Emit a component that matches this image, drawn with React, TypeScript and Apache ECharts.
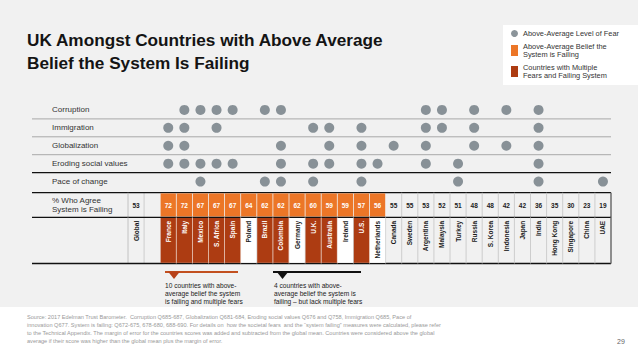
import React, { useEffect, useRef } from "react";
import * as echarts from "echarts";

const FONT = "'Liberation Sans', Arial, Helvetica, sans-serif";
const ORANGE = "#ec7627";
const DARK = "#ad3c12";
const DOT = "#6e7981";

const titleText = "UK Amongst Countries with Above Average\nBelief the System Is Failing";
const globalLabel = "Global";
const globalAgree = 53;
const countries = [
  "France", "Italy", "Mexico", "S. Africa", "Spain", "Poland", "Brazil", "Colombia",
  "Germany", "U.K.", "Australia", "Ireland", "U.S.", "Netherlands", "Canada", "Sweden",
  "Argentina", "Malaysia", "Turkey", "Russia", "S. Korea", "Indonesia", "Japan", "India",
  "Hong Kong", "Singapore", "China", "UAE",
];
const agreeFailing = [
  72, 72, 67, 67, 67, 64, 62, 62, 62, 60, 59, 59, 57, 56, 55, 55, 53, 52, 51, 48, 48, 42,
  42, 36, 35, 30, 23, 19,
];
const aboveAvgBelief = [
  "France", "Italy", "Mexico", "S. Africa", "Spain", "Poland", "Brazil", "Colombia",
  "Germany", "U.K.", "Australia", "Ireland", "U.S.", "Netherlands",
];
const fearRows = ["Corruption", "Immigration", "Globalization", "Eroding social values", "Pace of change"];
const corruption = ["Italy", "Mexico", "S. Africa", "Spain", "Brazil", "Colombia", "Argentina", "Malaysia", "Russia", "Indonesia", "India"];
const immigration = ["France", "Italy", "S. Africa", "U.K.", "Australia", "U.S.", "Argentina", "Malaysia", "Russia", "India"];
const globalization = ["France", "Italy", "Colombia", "Australia", "U.S.", "Canada", "Argentina", "Russia", "Indonesia", "India"];
const erodingValues = ["France", "Italy", "Mexico", "S. Africa", "Spain", "Colombia", "U.K.", "Australia", "U.S.", "Netherlands", "Argentina", "Turkey", "India"];
const paceOfChange = ["Mexico", "Brazil", "Colombia", "U.K.", "U.S.", "Turkey", "India", "UAE"];
const fearsByRow = [corruption, immigration, globalization, erodingValues, paceOfChange];
const agreeLabel = "% Who Agree\nSystem is Failing";

const LEGEND_FEAR = "Above-Average Level of Fear";
const LEGEND_BELIEF = "Above-Average Belief the\nSystem is Failing";
const LEGEND_MULTI = "Countries with Multiple\nFears and Failing System";

const note1 = "10 countries with above-\naverage belief the system\nis failing and multiple fears";
const note2 = "4 countries with above-\naverage belief the system is\nfailing \u2013 but lack multiple fears";
const sourceText =
  "Source: 2017 Edelman Trust Barometer.  Corruption Q685-687, Globalization Q681-684, Eroding social values Q676 and Q758, Immigration Q685, Pace of\n" +
  "innovation Q677. System is failing: Q672-675, 678-680, 688-690. For details on  how the societal fears  and the \u201csystem failing\u201d measures were calculated, please refer\n" +
  "to the Technical Appendix. The margin of error for the countries scores was added and subtracted from the global mean. Countries were considered above the global\n" +
  "average if their score was higher than the global mean plus the margin of error.";
const pageNumber = "29";

const columns = [globalLabel, "", ...countries];

export default function App() {
  const ref = useRef<HTMLDivElement>(null);
  useEffect(() => {
    if (!ref.current) return;
    const chart = echarts.init(ref.current, undefined, { renderer: "svg" });

    const fearCount = (c: string) => fearsByRow.filter((r) => r.includes(c)).length;
    const colOf = (c: string) => columns.indexOf(c);

    const dots: number[][] = [];
    fearsByRow.forEach((list, r) => list.forEach((c) => dots.push([colOf(c), r])));

    const valueData: number[][] = [[0, 0, globalAgree, 0]];
    countries.forEach((c, i) => valueData.push([colOf(c), 0, agreeFailing[i], aboveAvgBelief.includes(c) ? 1 : 0]));

    const nameData: number[][] = [[0, 0.5, 0]];
    countries.forEach((c) => {
      const failing = aboveAvgBelief.includes(c);
      const status = failing ? (fearCount(c) >= 2 ? 2 : 1) : 0;
      nameData.push([colOf(c), 0.5, status]);
    });

    const LABEL_LEFT = 96; // lines extend from x = grid.left - 96
    const tableFrame = (cs: any, children: any[]) => {
      const x0 = cs.x - LABEL_LEFT;
      const x1 = cs.x + cs.width;
      children.push(
        { type: "line", shape: { x1: x0, y1: cs.y, x2: x1, y2: cs.y }, style: { stroke: "#111", lineWidth: 1.3 } },
        { type: "line", shape: { x1: cs.x, y1: cs.y, x2: cs.x, y2: cs.y + cs.height }, style: { stroke: "#b8b8b8", lineWidth: 0.8 } },
        { type: "line", shape: { x1: x1, y1: cs.y, x2: x1, y2: cs.y + cs.height }, style: { stroke: "#111", lineWidth: 1.2 } }
      );
    };

    const option: any = {
      animation: false,
      textStyle: { fontFamily: FONT },
      title: {
        text: titleText,
        left: 27,
        top: 28,
        padding: 0,
        textStyle: { fontSize: 17.2, fontWeight: "bold", lineHeight: 23, color: "#141414", fontFamily: FONT },
      },
      legend: {
        orient: "vertical",
        left: 503,
        top: 25,
        padding: [4.5, 26, 5.5, 8],
        itemGap: 5,
        itemWidth: 7,
        itemHeight: 11,
        backgroundColor: "#ffffff",
        selectedMode: false,
        textStyle: { fontSize: 7.4, lineHeight: 8, color: "#333", fontFamily: FONT },
        data: [
          { name: LEGEND_FEAR, icon: "circle" },
          { name: LEGEND_BELIEF, icon: "rect" },
          { name: LEGEND_MULTI, icon: "rect" },
        ],
      },
      grid: [
        { left: 128, top: 101, width: 483, height: 89.5 },
        { left: 128, top: 192.7, width: 483, height: 24.6 },
        { left: 128, top: 217.3, width: 483, height: 46.2 },
      ],
      xAxis: [0, 1, 2].map((i) => ({ type: "category", gridIndex: i, data: columns, show: false })),
      yAxis: [
        {
          type: "category",
          gridIndex: 0,
          data: fearRows,
          inverse: true,
          axisLine: { show: false },
          axisTick: { show: false },
          splitLine: { show: false },
          axisLabel: { align: "left", margin: 76, fontSize: 8, color: "#333", fontFamily: FONT },
        },
        {
          type: "category",
          gridIndex: 1,
          data: [agreeLabel],
          axisLine: { show: false },
          axisTick: { show: false },
          splitLine: { show: false },
          axisLabel: { align: "left", margin: 76, fontSize: 8, lineHeight: 8.7, color: "#333", fontFamily: FONT },
        },
        { type: "value", gridIndex: 2, min: 0, max: 1, show: false },
      ],
      series: [
        {
          type: "custom",
          name: "rowLines",
          xAxisIndex: 0,
          yAxisIndex: 0,
          data: [[0, 0], [0, 1], [0, 2], [0, 3]],
          renderItem: (params: any, api: any) => {
            const r = api.value(1);
            const cy = api.coord([0, r])[1];
            const h = api.size([0, 1])[1];
            const cs = params.coordSys;
            const y = cy + h / 2;
            return {
              type: "line",
              shape: { x1: cs.x - LABEL_LEFT, y1: y, x2: cs.x + cs.width, y2: y },
              style: { stroke: r === 3 ? "#111" : "#a9a9a9", lineWidth: r === 3 ? 1.3 : 1 },
            };
          },
          z: 1,
        },
        {
          type: "scatter",
          name: LEGEND_FEAR,
          xAxisIndex: 0,
          yAxisIndex: 0,
          data: dots,
          symbol: "circle",
          symbolSize: 10,
          itemStyle: { color: DOT },
          z: 3,
        },
        {
          type: "custom",
          name: LEGEND_BELIEF,
          xAxisIndex: 1,
          yAxisIndex: 1,
          itemStyle: { color: ORANGE },
          data: valueData,
          renderItem: (params: any, api: any) => {
            const col = api.value(0);
            const val = api.value(2);
            const failing = api.value(3) === 1;
            const cx = api.coord([col, 0])[0];
            const w = api.size([1, 0])[0];
            const cs = params.coordSys;
            const children: any[] = [];
            if (failing) {
              children.push({
                type: "rect",
                shape: { x: cx - w / 2 + 0.4, y: cs.y + 0.7, width: w - 0.8, height: cs.height - 1.4 },
                style: { fill: ORANGE },
              });
            } else {
              children.push({
                type: "line",
                shape: { x1: cx + w / 2, y1: cs.y, x2: cx + w / 2, y2: cs.y + cs.height },
                style: { stroke: "#c4c4c4", lineWidth: 0.8 },
              });
            }
            children.push({
              type: "text",
              x: cx,
              y: cs.y + cs.height / 2,
              style: {
                text: String(val),
                align: "center",
                verticalAlign: "middle",
                fill: failing ? "#ffffff" : "#222",
                font: `bold 6.5px ${FONT}`,
              },
            });
            if (col === 0) tableFrame(cs, children);
            return { type: "group", children };
          },
          z: 2,
        },
        {
          type: "custom",
          name: LEGEND_MULTI,
          xAxisIndex: 2,
          yAxisIndex: 2,
          itemStyle: { color: DARK },
          data: nameData,
          renderItem: (params: any, api: any) => {
            const col = api.value(0);
            const status = api.value(2);
            const cx = api.coord([col, 0.5])[0];
            const w = api.size([1, 0])[0];
            const cs = params.coordSys;
            const children: any[] = [];
            children.push({
              type: "line",
              shape: { x1: cx + w / 2, y1: cs.y, x2: cx + w / 2, y2: cs.y + cs.height },
              style: { stroke: status === 2 ? "#e8c2b0" : "#c4c4c4", lineWidth: 0.8 },
            });
            if (status > 0) {
              children.push({
                type: "rect",
                shape: { x: cx - w / 2 + 0.4, y: cs.y + 0.7, width: w - 0.8, height: cs.height - 1.4 },
                style: { fill: status === 2 ? DARK : "#ffffff" },
              });
            }
            children.push({
              type: "text",
              x: cx,
              y: cs.y + 3.5,
              rotation: Math.PI / 2,
              style: {
                text: columns[col],
                align: "right",
                verticalAlign: "middle",
                fill: status === 2 ? "#ffffff" : "#1a1a1a",
                font: `bold 6.5px ${FONT}`,
              },
            });
            if (col === 0) {
              tableFrame(cs, children);
              children.push({
                type: "line",
                shape: { x1: cs.x - LABEL_LEFT, y1: cs.y + cs.height, x2: cs.x + cs.width, y2: cs.y + cs.height },
                style: { stroke: "#111", lineWidth: 1.3 },
              });
            }
            return { type: "group", children };
          },
          z: 2,
        },
      ],
      graphic: [
        { type: "line", shape: { x1: 165, y1: 272, x2: 238, y2: 272 }, style: { stroke: "#c2501f", lineWidth: 1.8 } },
        { type: "polygon", shape: { points: [[168, 271.5], [180, 271.5], [174, 279]] }, style: { fill: "#b8421a" } },
        { type: "line", shape: { x1: 273, y1: 272, x2: 361, y2: 272 }, style: { stroke: "#111", lineWidth: 1.8 } },
        { type: "polygon", shape: { points: [[276.5, 271.5], [288.5, 271.5], [282.5, 279]] }, style: { fill: "#111" } },
        {
          type: "text",
          x: 165,
          y: 281,
          style: { text: note1, fill: "#222", font: `6.6px ${FONT}`, lineHeight: 8, verticalAlign: "top" },
        },
        {
          type: "text",
          x: 274,
          y: 281,
          style: { text: note2, fill: "#222", font: `6.6px ${FONT}`, lineHeight: 8, verticalAlign: "top" },
        },
        {
          type: "text",
          x: 27,
          y: 313,
          style: { text: sourceText, fill: "#999999", font: `5.6px ${FONT}`, lineHeight: 8, verticalAlign: "top" },
        },
        {
          type: "text",
          x: 617,
          y: 341,
          style: { text: pageNumber, fill: "#666", font: `7px ${FONT}`, verticalAlign: "middle" },
        },
      ],
    };

    chart.setOption(option);
    return () => chart.dispose();
  }, []);

  return (
    <div
      ref={ref}
      style={{
        position: "absolute",
        left: 0,
        top: 0,
        width: 638,
        height: 359,
        background: "linear-gradient(#f1f1f1 0px, #f1f1f1 307px, #ffffff 307px)",
      }}
    />
  );
}
